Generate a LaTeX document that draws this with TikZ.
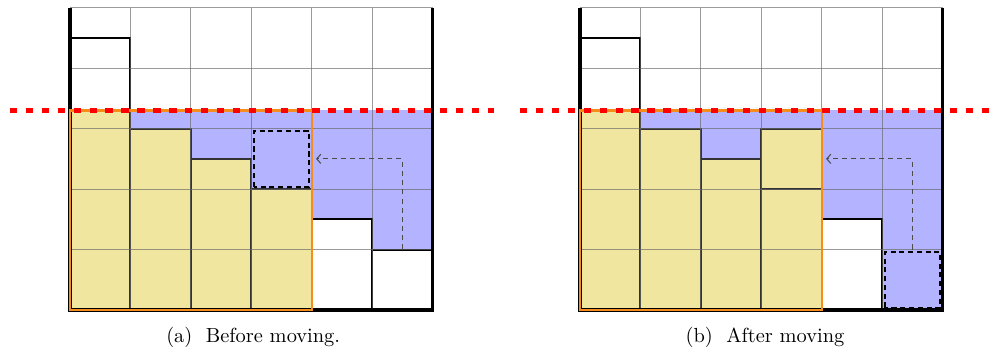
\documentclass[tikz,border=0pt]{standalone}
\usetikzlibrary{arrows.meta}
\definecolor{blockyellow}{RGB}{240,230,160}
\definecolor{freeblue}{RGB}{179,179,255}
\definecolor{framorange}{RGB}{245,140,30}
\definecolor{cutred}{RGB}{255,0,0}
\tikzset{
  freearea/.style={fill=freeblue},
  usedblock/.style={fill=blockyellow, draw=black!80, line width=1pt},
  emptyblock/.style={fill=white, draw=black, line width=1pt},
  gridlines/.style={draw=black!60, line width=0.5pt, opacity=0.65},
  container/.style={draw=black, line width=1.6pt},
  frontier/.style={draw=framorange, line width=1.2pt},
  cutline/.style={draw=cutred, line width=2pt, dash pattern=on 3.6pt off 4.2pt},
  movebox/.style={draw=black, line width=0.9pt, dash pattern=on 2.5pt off 1.8pt},
  movepath/.style={draw=black!70, line width=0.5pt, dash pattern=on 2.5pt off 2pt, -{Straight Barb[length=2pt,width=4.5pt]}},
  captext/.style={anchor=base, font=\normalsize, inner sep=0pt}
}
\newcommand\gridcells{%
  \foreach \gx in {0,...,6} {\draw[gridlines] (\gx,0) -- (\gx,5);}
  \foreach \gy in {0,...,5} {\draw[gridlines] (0,\gy) -- (6,\gy);}
}
\begin{document}
\begin{tikzpicture}[x=29.62pt,y=29.62pt]
\useasboundingbox (-1.158,-0.612) rectangle (15.335,5.128);
% ---------------- panel (a)
\begin{scope}
  \fill[freearea] (1,0) rectangle (6,3.3);
  \draw[emptyblock] (0,3.3) rectangle (1,4.5);
  \draw[usedblock] (0,0) rectangle (1,3.3);
  \draw[usedblock] (1,0) rectangle (2,3);
  \draw[usedblock] (2,0) rectangle (3,2.5);
  \draw[usedblock] (3,0) rectangle (4,2);
  \draw[emptyblock] (4,0) rectangle (5,1.5);
  \draw[emptyblock] (5,0) rectangle (6,1);
  \gridcells
  \draw[movebox] (3.04,2.04) rectangle (3.96,2.96);
  \coordinate (as) at (5.5,1);
  \coordinate (at) at (4.07,2.5);
  \draw[movepath] (as) |- (at);
  \draw[container] (0,5) -- (0,0) -- (6,0) -- (6,5);
  \draw[frontier] (0,0) rectangle (4,3.3);
  \coordinate (ra) at (-0.993,3.3);
  \coordinate (rb) at (7.014,3.3);
  \draw[cutline] (ra) -- (rb);
  \node[captext] (capa) at (3.03,-0.53) {(a)\ \ Before moving.};
\end{scope}
% ---------------- panel (b)
\begin{scope}[xshift=8.437*29.62pt]
  \fill[freearea] (1,0) rectangle (6,3.3);
  \draw[emptyblock] (0,3.3) rectangle (1,4.5);
  \draw[usedblock] (0,0) rectangle (1,3.3);
  \draw[usedblock] (1,0) rectangle (2,3);
  \draw[usedblock] (2,0) rectangle (3,2.5);
  \draw[usedblock] (3,0) rectangle (4,2);
  \draw[usedblock] (3,2) rectangle (4,3);
  \draw[emptyblock] (4,0) rectangle (5,1.5);
  \gridcells
  \draw[movebox] (5.04,0.04) rectangle (5.96,0.96);
  \coordinate (bs) at (5.5,1);
  \coordinate (bt) at (4.07,2.5);
  \draw[movepath] (bs) |- (bt);
  \draw[container] (0,5) -- (0,0) -- (6,0) -- (6,5);
  \draw[frontier] (0,0) rectangle (4,3.3);
  \coordinate (rc) at (-0.993,3.3);
  \coordinate (rd) at (6.898,3.3);
  \draw[cutline] (rc) -- (rd);
  \node[captext] (capb) at (3.06,-0.53) {(b)\ \ After moving};
\end{scope}
\end{tikzpicture}
\end{document}
